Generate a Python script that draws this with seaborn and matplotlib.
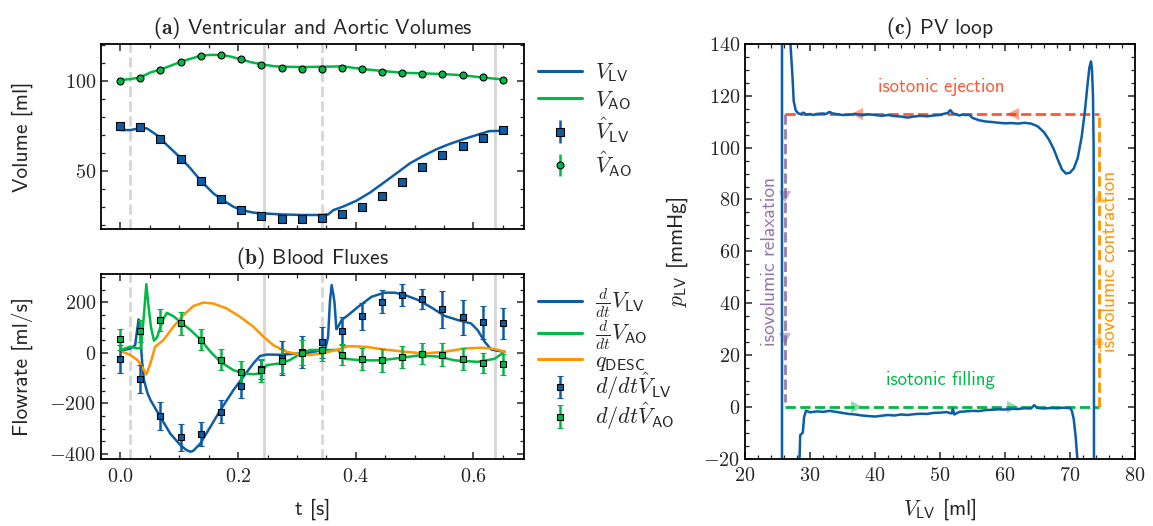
import numpy as np
import pandas as pd
import matplotlib
matplotlib.use("Agg")
import matplotlib.pyplot as plt
from matplotlib.ticker import MultipleLocator, FuncFormatter
from matplotlib.lines import Line2D
import seaborn as sns

# ---------------- data ----------------
# observation times [s]
t_obs = [0.000, 0.034, 0.068, 0.103, 0.137, 0.171, 0.205, 0.239, 0.274, 0.308,
         0.342, 0.376, 0.411, 0.445, 0.479, 0.513, 0.547, 0.582, 0.616, 0.650]
# (a) measured volumes
v_lv_obs = [74.8, 74.1, 67.6, 56.7, 44.3, 34.1, 28.0, 24.8, 23.3, 23.1,
            23.9, 25.9, 29.8, 35.9, 43.7, 51.9, 58.5, 63.9, 68.1, 72.4]
v_ao_obs = [100.0, 101.7, 105.7, 110.6, 113.9, 114.1, 111.9, 108.9, 106.9, 106.3,
            106.7, 106.9, 106.3, 105.0, 104.1, 103.9, 103.7, 103.1, 101.9, 100.4]
# (a) model volumes
t_vlv = [0.000, 0.017, 0.034, 0.045, 0.062, 0.079, 0.103, 0.119, 0.138, 0.158, 0.172,
         0.192, 0.206, 0.226, 0.241, 0.275, 0.309, 0.343, 0.353, 0.362, 0.378, 0.401,
         0.424, 0.446, 0.469, 0.492, 0.514, 0.537, 0.559, 0.582, 0.605, 0.627, 0.651]
v_lv = [72.6, 72.6, 73.7, 73.5, 69.8, 64.3, 56.9, 51.3, 43.9, 37.4, 34.1,
        30.0, 28.1, 26.7, 26.3, 25.7, 25.4, 25.4, 25.7, 28.1, 30.0, 33.3,
        37.8, 43.0, 48.5, 54.1, 58.1, 61.9, 64.8, 67.4, 69.8, 72.0, 72.2]
t_vao = [0.000, 0.017, 0.034, 0.051, 0.069, 0.085, 0.103, 0.119, 0.138, 0.158, 0.172,
         0.186, 0.206, 0.220, 0.241, 0.260, 0.275, 0.309, 0.344, 0.377, 0.412, 0.446,
         0.480, 0.514, 0.549, 0.583, 0.618, 0.651]
v_ao = [100.4, 100.9, 101.9, 104.6, 106.3, 108.3, 110.6, 112.2, 114.1, 114.4, 114.3,
        113.5, 111.9, 110.4, 109.1, 108.1, 107.8, 107.6, 107.8, 108.0, 106.5, 105.4,
        104.4, 104.1, 103.7, 103.0, 101.7, 100.7]

# (b) measured fluxes
dvlv_obs = [-25, -104, -250, -335, -322, -234, -132, -66, -22, 4,
            41, 86, 144, 202, 230, 213, 172, 140, 120, 116]
dvlv_err = [55, 54, 55, 53, 48, 46, 47, 38, 68, 64,
            61, 54, 53, 46, 44, 40, 73, 68, 65, 61]
dvao_obs = [53, 86, 129, 116, 52, -28, -75, -70, -33, 0,
            9, -7, -26, -30, -17, -3, -7, -26, -41, -46]
dvao_err = [43, 42, 43, 44, 42, 42, 43, 44, 47, 49,
            42, 41, 43, 45, 43, 43, 44, 43, 41, 43]
# (b) model fluxes
t_dvlv = [0.000, 0.017, 0.025, 0.029, 0.031, 0.033, 0.035, 0.037, 0.040, 0.046, 0.051,
          0.068, 0.085, 0.102, 0.112, 0.119, 0.124, 0.136, 0.153, 0.170, 0.192, 0.209,
          0.226, 0.237, 0.249, 0.271, 0.288, 0.305, 0.322, 0.336, 0.348, 0.353, 0.356,
          0.359, 0.362, 0.364, 0.367, 0.370, 0.376, 0.387, 0.404, 0.427, 0.449, 0.466,
          0.483, 0.506, 0.528, 0.551, 0.573, 0.596, 0.607, 0.619, 0.630, 0.641, 0.653]
dvlv = [7, 17, 30, 100, 132, 110, 30, -40, -108, -160, -187,
        -255, -321, -366, -385, -392, -388, -359, -293, -227, -148, -95,
        -42, -13, -7, -8, -5, -3, 1, 7, 11, 64, 200,
        268, 230, 196, 93, 103, 130, 149, 182, 222, 238, 238,
        229, 209, 180, 146, 130, 116, 90, 44, 13, 8, 4]
t_dvao = [0.000, 0.017, 0.029, 0.035, 0.040, 0.044, 0.048, 0.052, 0.057, 0.062, 0.073,
          0.079, 0.090, 0.102, 0.119, 0.136, 0.153, 0.170, 0.192, 0.209, 0.226, 0.237,
          0.249, 0.271, 0.288, 0.305, 0.322, 0.342, 0.370, 0.381, 0.410, 0.443, 0.477,
          0.506, 0.540, 0.568, 0.607, 0.636, 0.653]
dvao = [11, 24, 17, 20, 150, 272, 180, 100, 48, 60, 135,
        158, 145, 122, 90, 53, 4, -36, -69, -82, -85, -82,
        -49, -42, -29, -5, 11, 11, 11, -24, -30, -30, -20,
        -11, -15, -30, -36, -24, 4]
t_qdesc = [0.000, 0.017, 0.029, 0.037, 0.044, 0.051, 0.059, 0.073, 0.090, 0.107, 0.124,
           0.141, 0.158, 0.181, 0.203, 0.226, 0.243, 0.260, 0.282, 0.305, 0.322, 0.342,
           0.370, 0.387, 0.415, 0.449, 0.483, 0.517, 0.551, 0.585, 0.613, 0.636, 0.653]
qdesc = [7, -9, -29, -56, -86, -42, 24, 50, 103, 149, 185,
         199, 195, 175, 143, 103, 64, 30, 4, -7, -9, -3,
         13, 26, 24, 13, 4, -3, 4, 17, 20, 15, 4]

# phase markers [s]
t_dashed = [0.017, 0.342]
t_solid = [0.244, 0.636]

# (c) PV loop
pv_vol = [28.3, 28.4, 28.5, 28.9, 29.1, 29.4, 30.0, 31.0, 32.0, 33.0, 34.0, 35.0, 36.0,
          37.0, 38.0, 39.0, 40.0, 41.0, 42.0, 43.0, 44.0, 45.0, 46.0, 47.0, 48.0, 49.0,
          50.0, 51.0, 51.8, 52.0, 52.2, 53.0, 54.0, 55.0, 56.0, 57.0, 58.0, 59.0, 60.0,
          61.0, 62.0, 63.0, 64.0, 64.5, 65.0, 66.0, 67.0, 68.0, 69.0, 70.0, 70.3, 70.6,
          70.9, 71.2, 71.5,
          73.7, 73.7, 73.7, 73.65, 73.55, 73.4, 73.25, 73.0, 72.7, 72.3, 71.8, 71.2, 70.6,
          70.0, 69.4, 68.8, 68.2, 67.5, 66.8, 66.0, 65.0, 64.0, 63.0, 62.0, 61.0, 60.0,
          59.0, 58.0, 57.0, 56.0, 55.0, 54.5, 54.0, 53.5, 53.0, 52.5, 52.0, 51.6, 51.2,
          50.5, 50.0, 49.0, 48.0, 47.0, 46.0, 45.0, 44.0, 43.0, 42.0, 41.0, 40.0, 39.0,
          38.0, 37.0, 36.0, 35.0, 34.0, 33.5, 33.0, 32.5, 32.0, 31.0, 30.5, 30.0, 29.5,
          29.0, 28.6, 28.2, 27.8, 27.5, 27.3, 27.0, 26.6, 25.7, 25.7]
pv_pres = [-45, -20, -11, -10, -4, -1.5, -2.2, -1.8, -2.0, -1.6, -2.0, -2.4, -2.8,
           -3.0, -3.4, -3.6, -3.8, -3.5, -3.2, -3.4, -3.0, -3.2, -2.9, -2.7, -2.8, -2.4,
           -2.3, -2.1, -2.6, -0.8, -3.0, -2.0, -1.8, -1.6, -1.7, -1.3, -1.2, -1.0, -1.1,
           -0.8, -0.9, -0.6, -0.7, 0.6, -0.5, -0.7, -0.5, -0.6, -0.4, -0.5, -1.5, -5,
           -12, -22, -45,
           -45, 0, 60, 100, 120, 130, 133.3, 131, 124, 114, 104, 96, 92,
           90.3, 90.0, 91.5, 95, 99.5, 103, 106, 108.3, 109.3, 109.6, 109.3, 109.5, 109.4,
           109.6, 109.9, 110.1, 110.6, 111.5, 112.7, 112.6, 112.8, 112.4, 112.9, 113.2, 114.5, 113.4,
           113.0, 112.6, 112.4, 112.1, 112.3, 112.0, 111.6, 112.0, 112.2, 112.6, 112.3, 112.6, 112.9,
           112.5, 113.0, 112.7, 112.6, 113.0, 113.2, 113.8, 113.0, 113.2, 113.0, 112.6, 113.0, 112.7,
           113.5, 113.0, 113.2, 114.5, 118, 128, 140, 160, 170, -45]

# idealised loop
v_min_ideal, v_max_ideal = 26.2, 74.4
p_eject_ideal, p_fill_ideal = 113.0, 0.0
arrow_vols = [37.2, 61.3]
arrow_pres = [81.0, 26.0]

# ---------------- style ----------------
sns.set_theme(style="ticks")
plt.rcParams.update({
    "font.family": ["cmss10", "DejaVu Sans"],
    "mathtext.fontset": "cm",
    "axes.unicode_minus": True,
    "xtick.direction": "in", "ytick.direction": "in",
    "xtick.top": True, "ytick.right": True,
    "xtick.minor.visible": True, "ytick.minor.visible": True,
    "xtick.major.size": 5, "ytick.major.size": 5,
    "xtick.minor.size": 2.8, "ytick.minor.size": 2.8,
    "xtick.major.width": 1.1, "ytick.major.width": 1.1,
    "xtick.minor.width": 0.9, "ytick.minor.width": 0.9,
    "xtick.major.pad": 6.0,
    "axes.linewidth": 1.3,
    "axes.edgecolor": "black",
    "font.size": 14,
    "xtick.labelsize": 14.5, "ytick.labelsize": 14.5,
    "axes.labelsize": 15.5, "axes.titlesize": 15.5,
})

C_BLUE, C_GREEN, C_ORANGE, C_RED, C_PURPLE = "#0C5DA5", "#00B945", "#FF9500", "#FF2C00", "#845B97"
C_GRAY = "#d6d6d6"
LW = 1.8
LEG_FS = 16

fig = plt.figure(figsize=(11.53, 5.26), dpi=100)
axA = fig.add_axes([0.0876, 0.5646, 0.3669, 0.3517])
axB = fig.add_axes([0.0876, 0.1268, 0.3669, 0.3523])
axC = fig.add_axes([0.6461, 0.1283, 0.3382, 0.7880])

fmt1 = FuncFormatter(lambda v, _: f"${v:.1f}$")
fmt0 = FuncFormatter(lambda v, _: f"${v:.0f}$")

# ---------------- (a) ----------------
for ax in (axA, axB):
    for tv in t_dashed:
        ax.axvline(tv, color=C_GRAY, lw=2, ls="--", zorder=0)
    for tv in t_solid:
        ax.axvline(tv, color=C_GRAY, lw=2, ls="-", zorder=0)

sns.lineplot(x=t_vlv, y=v_lv, ax=axA, color=C_BLUE, lw=LW, zorder=2)
sns.lineplot(x=t_vao, y=v_ao, ax=axA, color=C_GREEN, lw=LW, zorder=2)
ebA1 = axA.errorbar(t_obs, v_lv_obs, yerr=np.zeros(len(t_obs)), fmt="s", color=C_BLUE,
                    mfc=C_BLUE, mec="black", mew=0.8, ms=5.5, elinewidth=LW, capsize=0, zorder=3)
ebA2 = axA.errorbar(t_obs, v_ao_obs, yerr=np.zeros(len(t_obs)), fmt="o", color=C_GREEN,
                    mfc=C_GREEN, mec="black", mew=0.8, ms=5, elinewidth=LW, capsize=0, zorder=3)
axA.set_xlim(-0.033, 0.686)
axA.set_ylim(17.6, 120.4)
axA.xaxis.set_major_locator(MultipleLocator(0.2))
axA.xaxis.set_minor_locator(MultipleLocator(0.05))
axA.yaxis.set_major_locator(MultipleLocator(50))
axA.yaxis.set_minor_locator(MultipleLocator(10))
axA.yaxis.set_major_formatter(fmt0)
axA.tick_params(labelbottom=False)
axA.set_ylabel("Volume [ml]")
axA.yaxis.set_label_coords(-0.16, 0.5)
axA.set_title(r"($\mathbf{a}$) Ventricular and Aortic Volumes", pad=7)
hA = [Line2D([], [], color=C_BLUE, lw=2.2), Line2D([], [], color=C_GREEN, lw=2.2), ebA1, ebA2]
lA = [r"$V_{\mathsf{LV}}$", r"$V_{\mathsf{AO}}$", r"$\hat{V}_{\mathsf{LV}}$", r"$\hat{V}_{\mathsf{AO}}$"]
axA.legend(hA, lA, loc="upper left", bbox_to_anchor=(1.033, 0.905), frameon=False,
           borderpad=0, borderaxespad=0,
           handlelength=2.0, handletextpad=0.55, labelspacing=0.2, fontsize=LEG_FS)

# ---------------- (b) ----------------
sns.lineplot(x=t_dvlv, y=dvlv, ax=axB, color=C_BLUE, lw=LW, zorder=2)
sns.lineplot(x=t_dvao, y=dvao, ax=axB, color=C_GREEN, lw=LW, zorder=2)
sns.lineplot(x=t_qdesc, y=qdesc, ax=axB, color=C_ORANGE, lw=LW, zorder=2)
ebB1 = axB.errorbar(t_obs, dvlv_obs, yerr=dvlv_err, fmt="s", color=C_BLUE, mfc=C_BLUE,
                    mec="black", mew=0.8, ms=4, elinewidth=LW, capsize=2.5, capthick=LW, zorder=3)
ebB2 = axB.errorbar(t_obs, dvao_obs, yerr=dvao_err, fmt="s", color=C_GREEN, mfc=C_GREEN,
                    mec="black", mew=0.8, ms=4, elinewidth=LW, capsize=2.5, capthick=LW, zorder=3)
axB.set_xlim(-0.033, 0.686)
axB.set_ylim(-422, 312)
axB.xaxis.set_major_locator(MultipleLocator(0.2))
axB.xaxis.set_minor_locator(MultipleLocator(0.05))
axB.yaxis.set_major_locator(MultipleLocator(200))
axB.yaxis.set_minor_locator(MultipleLocator(50))
axB.xaxis.set_major_formatter(fmt1)
axB.yaxis.set_major_formatter(fmt0)
axB.set_xlabel("t [s]", labelpad=9)
axB.set_ylabel("Flowrate [ml/s]")
axB.yaxis.set_label_coords(-0.16, 0.5)
axB.set_title(r"($\mathbf{b}$) Blood Fluxes", pad=7)
hB = [Line2D([], [], color=C_BLUE, lw=2.2), Line2D([], [], color=C_GREEN, lw=2.2),
      Line2D([], [], color=C_ORANGE, lw=2.2), ebB1, ebB2]
lB = [r"$\frac{d}{dt}V_{\mathsf{LV}}$", r"$\frac{d}{dt}V_{\mathsf{AO}}$", r"$q_{\mathsf{DESC}}$",
      r"$d/dt\hat{V}_{\mathsf{LV}}$", r"$d/dt\hat{V}_{\mathsf{AO}}$"]
axB.legend(hB, lB, loc="upper left", bbox_to_anchor=(1.033, 0.93), frameon=False,
           borderpad=0, borderaxespad=0,
           handlelength=2.0, handletextpad=0.55, labelspacing=-0.06, fontsize=LEG_FS)

# ---------------- (c) ----------------
pv = pd.DataFrame({"V": pv_vol, "p": pv_pres})
axC.plot([v_min_ideal, v_max_ideal], [p_eject_ideal, p_eject_ideal], ls="--", color=C_RED, lw=2, alpha=0.8, zorder=1)
axC.plot([v_min_ideal, v_max_ideal], [p_fill_ideal, p_fill_ideal], ls="--", color=C_GREEN, lw=2, zorder=1)
axC.plot([v_min_ideal, v_min_ideal], [p_eject_ideal, p_fill_ideal + 2], ls="--", color=C_PURPLE, lw=2, alpha=0.8, zorder=1)
axC.plot([v_max_ideal, v_max_ideal], [p_fill_ideal, p_eject_ideal], ls="--", color=C_ORANGE, lw=2, zorder=1)
axC.plot(arrow_vols, [p_eject_ideal] * 2, "<", color=C_RED, ms=9, alpha=0.45, mew=0, zorder=1)
axC.plot(arrow_vols, [p_fill_ideal] * 2, ">", color=C_GREEN, ms=9, alpha=0.45, mew=0, zorder=1)
axC.plot([v_min_ideal] * 2, arrow_pres, "v", color=C_PURPLE, ms=9, alpha=0.45, mew=0, zorder=1)
axC.plot([v_max_ideal] * 2, arrow_pres, "^", color=C_ORANGE, ms=9, alpha=0.45, mew=0, zorder=1)
sns.lineplot(data=pv, x="V", y="p", ax=axC, sort=False, estimator=None, color=C_BLUE, lw=LW, zorder=2)
axC.text(50.2, 123.5, "isotonic ejection", color=C_RED, alpha=0.8, ha="center", va="center", fontsize=13.5)
axC.text(50.0, 10.5, "isotonic filling", color=C_GREEN, ha="center", va="center", fontsize=13.5)
axC.text(23.9, 56, "isovolumic relaxation", color=C_PURPLE, alpha=0.85, rotation=90,
         ha="center", va="center", fontsize=14)
axC.text(76.2, 56, "isovolumic contraction", color=C_ORANGE, rotation=90,
         ha="center", va="center", fontsize=14)
axC.set_xlim(20, 80)
axC.set_ylim(-20, 140)
axC.xaxis.set_major_locator(MultipleLocator(10))
axC.xaxis.set_minor_locator(MultipleLocator(2))
axC.yaxis.set_major_locator(MultipleLocator(20))
axC.yaxis.set_minor_locator(MultipleLocator(5))
axC.xaxis.set_major_formatter(fmt0)
axC.yaxis.set_major_formatter(fmt0)
axC.set_xlabel(r"$V_{\mathsf{LV}}$ [ml]", labelpad=8)
axC.set_ylabel(r"$p_{\mathsf{LV}}$ [mmHg]")
axC.yaxis.set_label_coords(-0.141, 0.5)
axC.set_title(r"($\mathbf{c}$) PV loop", pad=7)

fig.savefig("out.png", dpi=100)
